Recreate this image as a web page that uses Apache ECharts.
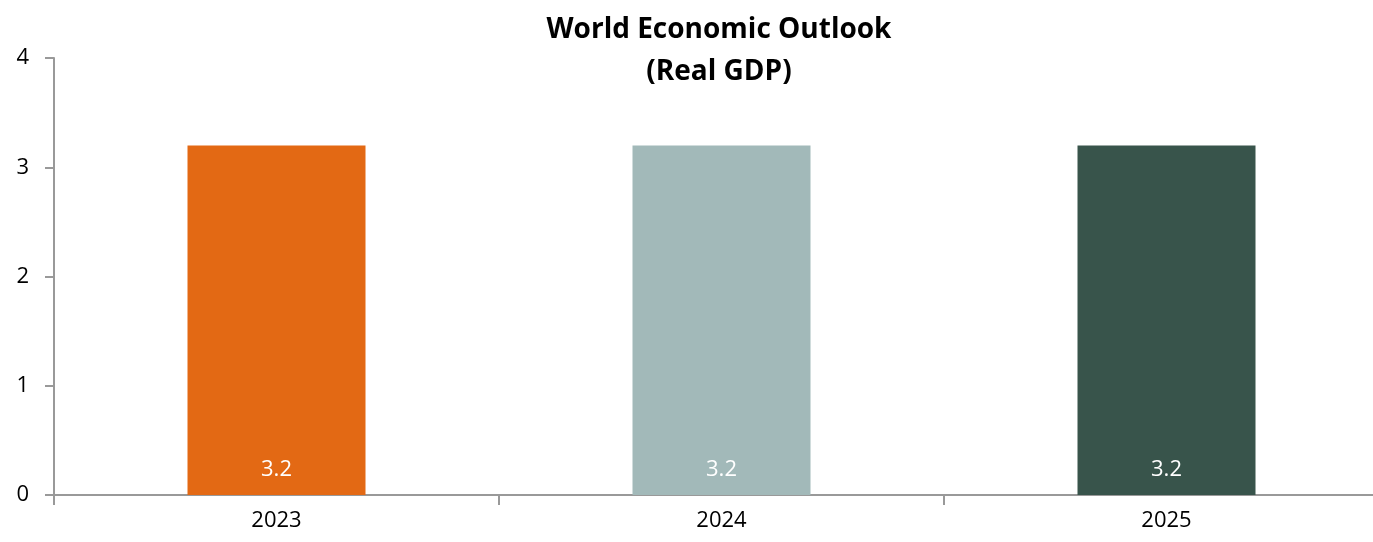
<!DOCTYPE html>
<html><head><meta charset="utf-8">
<script src="https://cdn.jsdelivr.net/npm/echarts@6/dist/echarts.min.js"></script>
<style>html,body{margin:0;padding:0;background:#fff;overflow:hidden}#c{width:1389px;height:542px}</style>
</head><body><div id="c"></div>
<script>
const categories = ['2023', '2024', '2025'];
const values = [3.2, 3.2, 3.2];
const barColors = ['#E36914', '#A2B9B9', '#38544B'];
const yTicks = [0, 1, 2, 3, 4];
const titleLines = ['World Economic Outlook', '(Real GDP)'];

const chart = echarts.init(document.getElementById('c'));
const font = 'Open Sans, DejaVu Sans, sans-serif';
chart.setOption({
  animation: false,
  title: {
    text: titleLines.join('\n'), left: 714, top: 4, textAlign: 'center',
    textStyle: {fontFamily: font, fontWeight: 'bold', fontSize: 28, color: '#000', lineHeight: 42}
  },
  grid: {left: 54, right: 0, top: 58, bottom: 47},
  xAxis: {
    type: 'category', data: categories,
    axisLine: {lineStyle: {color: '#999', width: 2}},
    axisTick: {show: true, length: 10, lineStyle: {color: '#999', width: 2}},
    axisLabel: {color: '#000', fontSize: 22, fontFamily: font, margin: 15}
  },
  yAxis: {
    type: 'value', min: yTicks[0], max: yTicks[yTicks.length - 1], interval: 1,
    axisLine: {show: true, lineStyle: {color: '#999', width: 2}},
    axisTick: {show: true, length: 9, lineStyle: {color: '#999', width: 2}},
    splitLine: {show: false},
    axisLabel: {color: '#000', fontSize: 22, fontFamily: font, margin: 25}
  },
  series: [{
    type: 'bar', barWidth: '40%',
    data: values.map((v, i) => ({value: v, itemStyle: {color: barColors[i]}})),
    label: {show: true, position: 'insideBottom', distance: 14, color: '#fff', fontSize: 22, fontFamily: font}
  }]
});
</script></body></html>
